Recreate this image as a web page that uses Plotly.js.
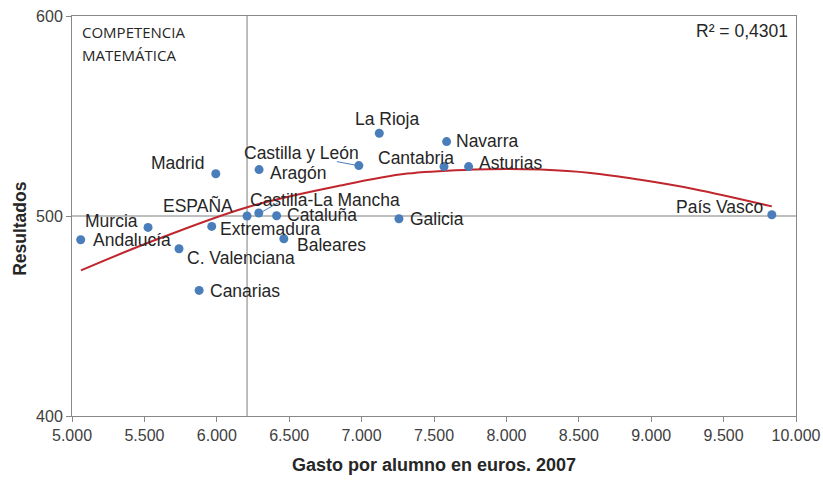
<!DOCTYPE html>
<html>
<head>
<meta charset="utf-8">
<script src="https://cdn.plot.ly/plotly-3.0.1.min.js"></script>
<style>html,body{margin:0;padding:0;background:#fff;}#chart{width:823px;height:482px;}</style>
</head>
<body>
<div id="chart"></div>
<script>
// Data
const regions = ["Andalucía","Murcia","C. Valenciana","Canarias","Extremadura","Madrid","ESPAÑA",
  "Castilla-La Mancha","Aragón","Cataluña","Baleares","Castilla y León","La Rioja","Galicia",
  "Cantabria","Navarra","Asturias","País Vasco"];
const gasto = [5060,5525,5739,5878,5965,5993,6209,6290,6292,6413,6463,6981,7122,7258,7569,7587,7739,9833];
const resultados = [488.1,494.3,483.6,462.8,494.8,521.1,500.0,501.5,523.2,500.1,488.6,525.2,541.4,498.6,524.7,537.2,524.7,500.6];

// Polynomial trend line as drawn in the reference
const trendX = [5062,5526,6210,6853,7315,7773,8006,8237,8582,8914,9300,9833];
const trendY = [472.8,486.6,504.4,515.2,521.2,523.2,523.5,523.2,521.5,518.2,513.4,504.8];

const xTickVals = [5000,5500,6000,6500,7000,7500,8000,8500,9000,9500,10000];
const yTickVals = [400,500,600];

const rSquared = "R² = 0,4301";
const panelTitleLines = ["COMPETENCIA", "MATEMÁTICA"];
const xTitle = "Gasto por alumno en euros. 2007";
const yTitle = "Resultados";

// Label placement (styling only); leader = pixel segment from the dot
const labelStyle = {
  "Andalucía": {a:"left", dx:11, dy:0},
  "Murcia": {a:"right", dx:-9, dy:6},
  "C. Valenciana": {a:"left", dx:7, dy:-9},
  "Canarias": {a:"left", dx:10, dy:-1},
  "Extremadura": {a:"left", dx:7, dy:-3},
  "Madrid": {a:"right", dx:-10, dy:11},
  "ESPAÑA": {a:"right", dx:-13, dy:11},
  "Castilla-La Mancha": {a:"left", dx:-10, dy:13, leader:[4,1.6,19,10]},
  "Aragón": {a:"left", dx:10, dy:-3.5},
  "Cataluña": {a:"left", dx:9, dy:1},
  "Baleares": {a:"left", dx:12, dy:-6},
  "Castilla y León": {a:"right", dx:1, dy:12.5, leader:[-1,0,-22,4]},
  "La Rioja": {a:"center", dx:8, dy:14},
  "Navarra": {a:"left", dx:8, dy:1},
  "Cantabria": {a:"right", dx:11, dy:9},
  "Asturias": {a:"left", dx:9, dy:4},
  "Galicia": {a:"left", dx:10, dy:0},
  "País Vasco": {a:"right", dx:-8, dy:8}
};

const FONT = "Liberation Sans, Arial, sans-serif";
const labelFont = {family: FONT, size: 17.5, color: "#262626"};

const annotations = regions.map((name, i) => {
  const s = labelStyle[name];
  return {x: gasto[i], y: resultados[i], xref:"x", yref:"y", text: name, showarrow:false,
    xanchor: s.a, yanchor: "middle", xshift: s.dx, yshift: s.dy, font: labelFont, borderpad: 0};
});

panelTitleLines.forEach((t, k) => {
  annotations.push({xref:"paper", yref:"paper", x:0.012, y:0.959 - k*0.0575, xanchor:"left", yanchor:"middle",
    text: t, showarrow:false, align:"left", borderpad:0,
    font:{family:"Open Sans, sans-serif", size:15, color:"#262626"}});
});
annotations.push({xref:"paper", yref:"paper", x:0.991, y:0.962, xanchor:"right", yanchor:"middle",
  text: rSquared, showarrow:false, borderpad:0, font:{family: FONT, size:17.5, color:"#262626"}});
annotations.push({xref:"paper", yref:"paper", x:-0.072, y:0.47, xanchor:"center", yanchor:"middle",
  text: "<b>" + yTitle + "</b>", textangle:-90, showarrow:false,
  font:{family: FONT, size:17.5, color:"#262626"}});

const iEsp = regions.indexOf("ESPAÑA");

const shapes = [
  {type:"line", xref:"x", yref:"paper", x0: gasto[iEsp], x1: gasto[iEsp], y0:0, y1:1,
   line:{color:"#7f7f7f", width:1}, layer:"below"},
  {type:"line", xref:"paper", yref:"y", x0:0, x1:1, y0: resultados[iEsp], y1: resultados[iEsp],
   line:{color:"#7f7f7f", width:1}, layer:"below"}
];
regions.forEach((name, i) => {
  const L = labelStyle[name].leader;
  if (!L) return;
  shapes.push({type:"line", xref:"x", yref:"y", xsizemode:"pixel", ysizemode:"pixel",
    xanchor: gasto[i], yanchor: resultados[i], x0:L[0], y0:L[1], x1:L[2], y1:L[3],
    line:{color:"#4A7EBB", width:1}, layer:"below"});
});

const traces = [
  {x: trendX, y: trendY, type:"scatter", mode:"lines", line:{color:"#C0262D", width:2, shape:"spline"},
   hoverinfo:"skip", showlegend:false},
  {x: gasto, y: resultados, type:"scatter", mode:"markers", text: regions,
   marker:{color:"#4A7EBB", size:9}, showlegend:false}
];

const layout = {
  width: 823, height: 482,
  margin: {l:72, r:27, t:16, b:65.5},
  paper_bgcolor: "#fff", plot_bgcolor: "#fff",
  separators: ",.",
  font: {family: FONT, color:"#333"},
  showlegend: false,
  xaxis: {range:[5000,10000], tickvals: xTickVals, tickformat:",d",
    ticks:"outside", ticklen:5, tickcolor:"#888", showline:true, linecolor:"#888", linewidth:1,
    mirror:true, showgrid:false, zeroline:false,
    tickfont:{family: FONT, size:16, color:"#404040"},
    title:{text: xTitle, standoff: 15, font:{family: FONT, size:18, color:"#262626", weight:"bold"}}},
  yaxis: {range:[400,600], tickvals: yTickVals,
    ticks:"outside", ticklen:5, tickcolor:"#888", showline:true, linecolor:"#888", linewidth:1,
    mirror:true, showgrid:false, zeroline:false,
    tickfont:{family: FONT, size:16, color:"#404040"}},
  shapes: shapes,
  annotations: annotations
};

Plotly.newPlot("chart", traces, layout, {displayModeBar:false, staticPlot:true});
</script>
</body>
</html>
